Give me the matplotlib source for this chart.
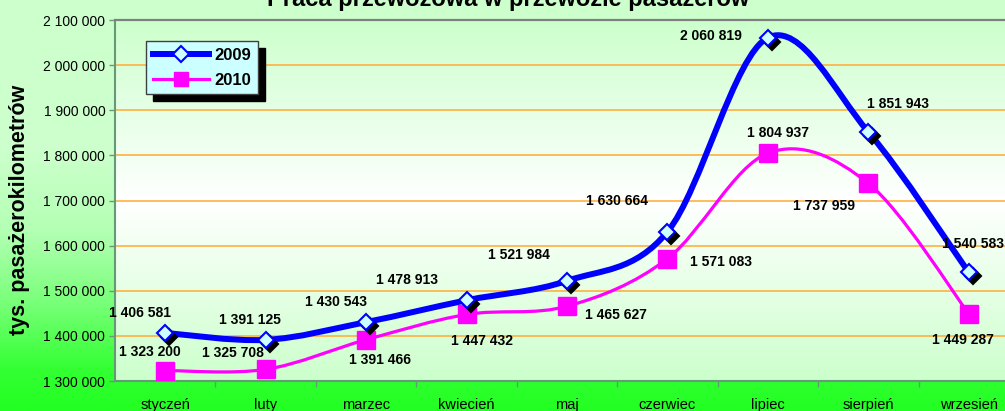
import numpy as np
import matplotlib.pyplot as plt
from matplotlib.path import Path
from matplotlib.patches import PathPatch
from matplotlib.colors import LinearSegmentedColormap
from matplotlib.lines import Line2D
from matplotlib.transforms import offset_copy
from matplotlib.ticker import FuncFormatter

plt.rcParams['font.family'] = ['Liberation Sans', 'DejaVu Sans']

# dane
miesiace = ['styczeń', 'luty', 'marzec', 'kwiecień', 'maj', 'czerwiec', 'lipiec', 'sierpień', 'wrzesień']
rok_2009 = [1406581, 1391125, 1430543, 1478913, 1521984, 1630664, 2060819, 1851943, 1540583]
rok_2010 = [1323200, 1325708, 1391466, 1447432, 1465627, 1571083, 1804937, 1737959, 1449287]

# przesuniecia etykiet (piksele)
off_2009 = [(-25, 20), (-16, 20), (-30, 20), (-60, 20), (-48, 26), (-50, 31), (-57, 2), (30, 28), (4, 28)]
off_2010 = [(-15, 19), (-33, 16), (14, -20), (15, -27), (49, -9), (54, -3), (10, 20), (-44, -23), (-6, -26)]


def gladka(x, y):
    # linia wygladzona jak w Excelu (Catmull-Rom -> Bezier)
    p = np.column_stack([x, y]).astype(float)
    pp = np.vstack([p[0], p, p[-1]])
    verts = [p[0]]
    codes = [Path.MOVETO]
    for i in range(len(p) - 1):
        p0, p1, p2, p3 = pp[i], pp[i + 1], pp[i + 2], pp[i + 3]
        verts += [p1 + (p2 - p0) / 6, p2 - (p3 - p1) / 6, p2]
        codes += [Path.CURVE4] * 3
    return Path(verts, codes)


fmt = lambda v: f'{int(v):,}'.replace(',', ' ')

W, H = 1005, 411
fig = plt.figure(figsize=(W / 100, H / 100), dpi=100)

# tlo calej figury
bg = fig.add_axes([0, 0, 1, 1], zorder=-10)
cm_fig = LinearSegmentedColormap.from_list('f', [(0, '#ccffcc'), (150 / H, '#ccffcc'), (230 / H, '#b4ffb4'),
                                                  (300 / H, '#7cff7c'), (370 / H, '#33ff33'), (1, '#22ff22')])
bg.imshow(np.linspace(0, 1, 256).reshape(-1, 1), cmap=cm_fig, aspect='auto', extent=[0, 1, 0, 1])
bg.set_axis_off()

x0, x1 = 115 / W, 1019 / W
y0, y1 = 1 - 381 / H, 1 - 20 / H
ax = fig.add_axes([x0, y0, x1 - x0, y1 - y0])
ax.patch.set_visible(False)
cm_ax = LinearSegmentedColormap.from_list('a', [(0, '#ccffcc'), (0.5, '#ffffff'), (1, '#ccffcc')])
ax.imshow(np.linspace(0, 1, 256).reshape(-1, 1), cmap=cm_ax, aspect='auto',
          extent=[0, 1, 0, 1], transform=ax.transAxes, zorder=-1)

x = np.arange(len(miesiace))

ax.add_patch(PathPatch(gladka(x, rok_2010), fill=False, edgecolor='#ff00ff', lw=2.3, zorder=3, capstyle='round'))
ax.add_patch(PathPatch(gladka(x, rok_2009), fill=False, edgecolor='#0000ff', lw=4.3, zorder=4, capstyle='round'))
ax.plot(x, rok_2010, ls='none', marker='s', ms=13, mfc='#ff00ff', mec='#ff00ff', zorder=5)
cien = offset_copy(ax.transData, fig=fig, x=4, y=-4, units='dots')
ax.plot(x, rok_2009, ls='none', marker='D', ms=8, mfc='black', mec='black', mew=1.5, zorder=5.5, transform=cien)
ax.plot(x, rok_2009, ls='none', marker='D', ms=8, mfc='#ccffff', mec='#0000ff', mew=1.5, zorder=6)

for i, v in enumerate(rok_2009):
    ax.annotate(fmt(v), (i, v), xytext=off_2009[i], textcoords='offset pixels', ha='center', va='center',
                fontsize=10, fontweight='bold', zorder=7)
for i, v in enumerate(rok_2010):
    ax.annotate(fmt(v), (i, v), xytext=off_2010[i], textcoords='offset pixels', ha='center', va='center',
                fontsize=10, fontweight='bold', zorder=7)

ax.set_xlim(-0.5, len(miesiace) - 0.5)
ax.set_ylim(1300000, 2100000)
ax.set_yticks(np.arange(1300000, 2100001, 100000))
ax.yaxis.set_major_formatter(FuncFormatter(lambda v, p: fmt(v)))
ax.tick_params(axis='y', length=4, width=1, color='#669977', labelsize=10, pad=3)
ax.yaxis.grid(True, color='#ffb040', lw=1.2)
ax.set_axisbelow(True)

ax.set_xticks(x + 0.5)
ax.set_xticklabels([])
ax.set_xticks(x, minor=True)
ax.set_xticklabels(miesiace, minor=True)
ax.tick_params(axis='x', which='major', length=4, width=1, color='#669977')
ax.tick_params(axis='x', which='minor', length=0, labelsize=10.5, pad=12)

ax.spines['top'].set_color('#808080')
ax.spines['top'].set_linewidth(1.6)
ax.spines['left'].set_color('#669977')
ax.spines['left'].set_linewidth(1.5)
ax.spines['bottom'].set_color('#669977')
ax.spines['bottom'].set_linewidth(1.5)
ax.spines['right'].set_visible(False)

fig.text(20 / W, 1 - 210 / H, 'tys. pasażerokilometrów', rotation=90, ha='center', va='center',
         fontsize=15.5, fontweight='bold')
fig.text(508 / W, 1 - 6 / H, 'Praca przewozowa w przewozie pasażerów', ha='center', va='baseline',
         fontsize=17, fontweight='bold')

h1 = Line2D([], [], color='#0000ff', lw=4.3, marker='D', ms=8, mfc='#ccffff', mec='#0000ff', mew=1.5)
h2 = Line2D([], [], color='#ff00ff', lw=2.3, marker='s', ms=10, mfc='#ff00ff', mec='#ff00ff')
leg = ax.legend([h1, h2], ['2009', '2010'], loc='upper left', bbox_to_anchor=(146 / W, 1 - 41 / H),
                bbox_transform=fig.transFigure, prop={'size': 12, 'weight': 'bold'}, handlelength=3.4,
                handletextpad=0.3, labelspacing=0.6, borderpad=0.4, borderaxespad=0, fancybox=False,
                framealpha=1, facecolor='#ccffff', edgecolor='#404040',
                shadow={'ox': 5, 'oy': -5, 'facecolor': 'black', 'edgecolor': 'black', 'alpha': 1})
leg.set_zorder(10)

fig.savefig('out.png', dpi=100)
